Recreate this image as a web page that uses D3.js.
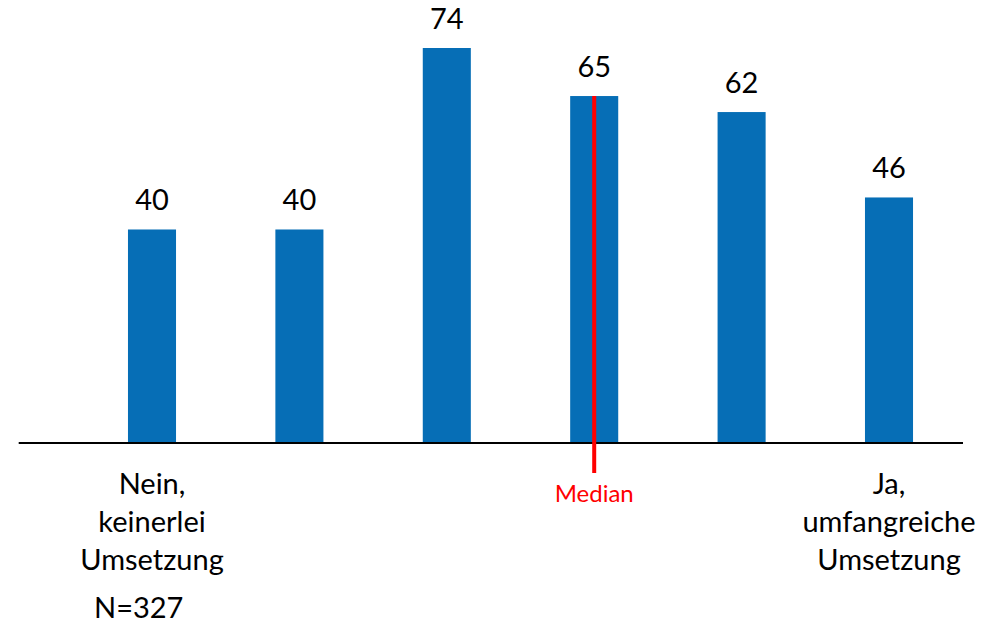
<!DOCTYPE html>
<html>
<head>
<meta charset="utf-8">
<script src="https://cdn.jsdelivr.net/npm/d3@7"></script>
<style>
  html, body { margin: 0; padding: 0; background: #fff; }
  svg { display: block; }
  text { font-family: Lato, "Open Sans", sans-serif; }
</style>
</head>
<body>
<svg id="chart" width="996" height="625"></svg>
<script>
// Survey answers on a 6-point scale, from "no implementation" to "extensive implementation"
const categories = ["1", "2", "3", "4", "5", "6"];
const counts = [40, 40, 74, 65, 62, 46];
const medianCategory = "4";
const leftEndLabel = ["Nein,", "keinerlei", "Umsetzung"];
const rightEndLabel = ["Ja,", "umfangreiche", "Umsetzung"];
const sampleLabel = "N=327";
const medianLabel = "Median";

const svg = d3.select("#chart");
const baseline = 443;
const labelSize = 29;

const x = d3.scaleBand()
  .domain(categories)
  .range([78.3, 962.7])
  .paddingInner(0.674)
  .paddingOuter(0.337);

const y = d3.scaleLinear()
  .domain([0, 74])
  .range([baseline, 48]);

const barColor = "#066EB6";

// bars
svg.append("g").selectAll("rect")
  .data(counts)
  .join("rect")
  .attr("x", (d, i) => x(categories[i]))
  .attr("y", d => y(d))
  .attr("width", x.bandwidth())
  .attr("height", d => baseline - y(d))
  .attr("fill", barColor);

// value labels
svg.append("g").selectAll("text")
  .data(counts)
  .join("text")
  .attr("x", (d, i) => x(categories[i]) + x.bandwidth() / 2)
  .attr("y", d => y(d) - 19)
  .attr("text-anchor", "middle")
  .attr("font-size", labelSize)
  .attr("fill", "#000")
  .text(d => d);

// category axis line
svg.append("line")
  .attr("x1", 18.7).attr("x2", 963)
  .attr("y1", baseline).attr("y2", baseline)
  .attr("stroke", "#000")
  .attr("stroke-width", 2);

// median marker
const mx = x(medianCategory) + x.bandwidth() / 2;
const mIdx = categories.indexOf(medianCategory);
svg.append("line")
  .attr("x1", mx).attr("x2", mx)
  .attr("y1", y(counts[mIdx])).attr("y2", 473)
  .attr("stroke", "#FF0000")
  .attr("stroke-width", 4);

svg.append("text")
  .attr("x", mx)
  .attr("y", 502)
  .attr("text-anchor", "middle")
  .attr("font-size", 24)
  .attr("fill", "#FF0000")
  .text(medianLabel);

// scale end labels
function endLabel(lines, cx) {
  const t = svg.append("text")
    .attr("text-anchor", "middle")
    .attr("font-size", labelSize)
    .attr("fill", "#000");
  lines.forEach((s, i) => {
    t.append("tspan").attr("x", cx).attr("y", 494 + i * 38).text(s);
  });
}
endLabel(leftEndLabel, x(categories[0]) + x.bandwidth() / 2);
endLabel(rightEndLabel, x(categories[categories.length - 1]) + x.bandwidth() / 2);

svg.append("text")
  .attr("x", 94)
  .attr("y", 618)
  .attr("font-size", labelSize)
  .attr("fill", "#000")
  .text(sampleLabel);
</script>
</body>
</html>
